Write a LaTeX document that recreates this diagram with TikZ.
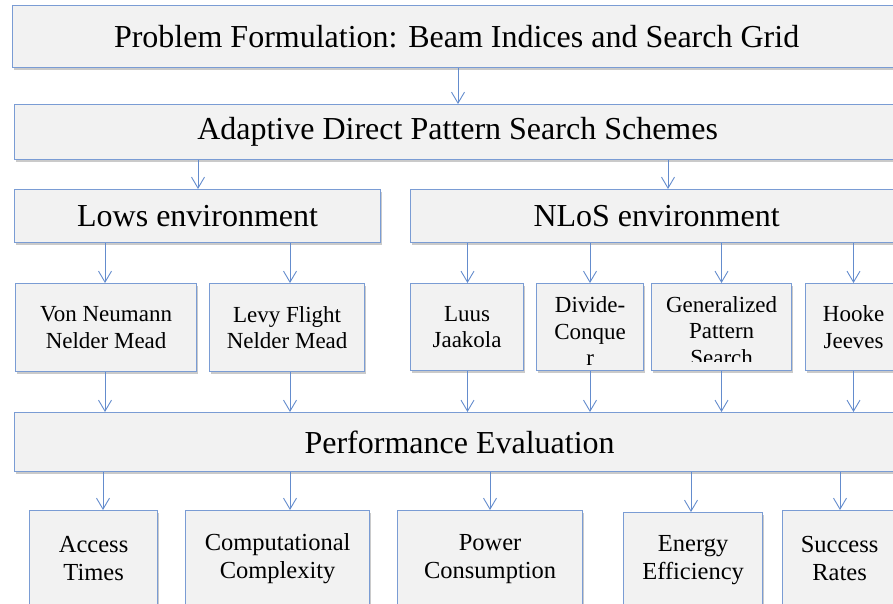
\documentclass[tikz,border=0pt]{standalone}
\usepackage{fontspec}
\setmainfont{Liberation Serif}
\usetikzlibrary{arrows.meta,shadows}
\definecolor{bordc}{RGB}{122,156,212}
\definecolor{arrc}{RGB}{100,140,205}
\definecolor{boxfill}{RGB}{242,242,242}
\tikzset{
  box/.style={draw=bordc, line width=1.2pt, fill=boxfill, anchor=north west,
    inner sep=0pt, align=center, text=black,
    drop shadow={shadow xshift=1.5pt, shadow yshift=-2.5pt, opacity=0.35, fill=black!60}},
  big/.style={font=\fontsize{32}{36}\selectfont},
  mid/.style={font=\fontsize{23}{26.5}\selectfont},
  low/.style={font=\fontsize{24.5}{28}\selectfont},
  arr/.style={draw=arrc, line width=0.9pt, -{Straight Barb[length=11pt,width=13pt]}},
  plain/.style={inner sep=0pt, align=center, text=black}
}
\begin{document}
\begin{tikzpicture}[x=1pt,y=-1pt]
\useasboundingbox (0,0) rectangle (893,604);
\clip (0,0) rectangle (893,604);
% row 1
\node[box,big,minimum width=888pt,minimum height=62pt] (top) at (12,5) {Problem Formulation: Beam Indices and Search Grid};
% row 2
\node[box,big,minimum width=886pt,minimum height=55pt] (adapt) at (14,104) {Adaptive Direct Pattern Search Schemes};
% row 3
\node[box,big,minimum width=366pt,minimum height=53pt] (lows) at (14,189) {Lows environment};
\node[box,big,minimum width=492pt,minimum height=53pt] (nlos) at (410,189) {NLoS environment};
% row 4
\node[box,mid,minimum width=181pt,minimum height=88pt] (vn) at (15,283) {Von Neumann\\Nelder Mead};
\node[box,mid,minimum width=155pt,minimum height=88pt] (levy) at (209,283) {Levy Flight\\Nelder Mead};
\node[box,mid,minimum width=113pt,minimum height=87pt] (luus) at (410,283) {Luus\\Jaakola};
\node[box,minimum width=107pt,minimum height=87pt] (divide) at (536,283) {};
\node[box,minimum width=140pt,minimum height=87pt] (gen) at (651,283) {};
\node[box,mid,minimum width=96pt,minimum height=87pt] (hooke) at (805,283) {Hooke\\Jeeves};
\begin{scope}
  \clip (536,283) rectangle (643,365);
  \node[plain,mid] (dividetext) at ([yshift=-4pt]divide.center) {Divide-\\Conque\\r};
\end{scope}
\begin{scope}
  \clip (651,283) rectangle (791,361);
  \node[plain,mid] (gentext) at ([yshift=-4pt]gen.center) {Generalized\\Pattern\\Search};
\end{scope}
% row 5
\node[box,big,minimum width=890pt,minimum height=59pt] (perf) at (14,412) {Performance Evaluation};
% row 6
\node[box,low,minimum width=128pt,minimum height=96pt] (access) at (29,510) {Access\\Times};
\node[box,low,minimum width=184pt,minimum height=96pt] (comp) at (185,510) {Computational\\Complexity};
\node[box,low,minimum width=185pt,minimum height=96pt] (power) at (397,510) {Power\\Consumption};
\node[box,low,minimum width=139pt,minimum height=96pt] (energy) at (623,512) {Energy\\Efficiency};
\node[box,low,minimum width=114pt,minimum height=96pt] (success) at (782,510) {Success\\Rates};
% connector x positions
\coordinate (x1) at (458,0);
\coordinate (x2) at (198,0);
\coordinate (x3) at (668,0);
\coordinate (x4) at (105,0);
\coordinate (x5) at (290,0);
\coordinate (x6) at (467.5,0);
\coordinate (x7) at (590,0);
\coordinate (x8) at (721.5,0);
\coordinate (x9) at (853.5,0);
\coordinate (y1) at (103,0);
\coordinate (y2) at (290,0);
\coordinate (y3) at (490,0);
\coordinate (y4) at (691,0);
\coordinate (y5) at (840,0);
% connectors
\draw[arr] (top.south -| x1) -- (adapt.north -| x1);
\draw[arr] (adapt.south -| x2) -- (lows.north -| x2);
\draw[arr] (adapt.south -| x3) -- (nlos.north -| x3);
\draw[arr] (lows.south -| x4) -- (vn.north -| x4);
\draw[arr] (lows.south -| x5) -- (levy.north -| x5);
\draw[arr] (nlos.south -| x6) -- (luus.north -| x6);
\draw[arr] (nlos.south -| x7) -- (divide.north -| x7);
\draw[arr] (nlos.south -| x8) -- (gen.north -| x8);
\draw[arr] (nlos.south -| x9) -- (hooke.north -| x9);
\draw[arr] (vn.south -| x4) -- (perf.north -| x4);
\draw[arr] (levy.south -| x5) -- (perf.north -| x5);
\draw[arr] (luus.south -| x6) -- (perf.north -| x6);
\draw[arr] (divide.south -| x7) -- (perf.north -| x7);
\draw[arr] (gen.south -| x8) -- (perf.north -| x8);
\draw[arr] (hooke.south -| x9) -- (perf.north -| x9);
\draw[arr] (perf.south -| y1) -- (access.north -| y1);
\draw[arr] (perf.south -| y2) -- (comp.north -| y2);
\draw[arr] (perf.south -| y3) -- (power.north -| y3);
\draw[arr] (perf.south -| y4) -- (energy.north -| y4);
\draw[arr] (perf.south -| y5) -- (success.north -| y5);
\end{tikzpicture}
\end{document}
